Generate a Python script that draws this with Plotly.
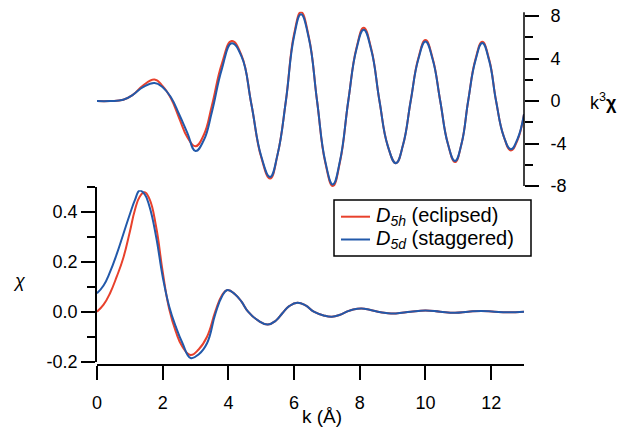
import plotly.graph_objects as go

# ---- data ----
k_top = [0.0, 0.4, 0.8, 1.1, 1.4, 1.75, 2.0, 2.25, 2.5, 2.75, 3.0, 3.25, 3.5, 3.8, 4.1,
         4.4, 4.7, 5.0, 5.27, 5.5, 5.75, 6.0, 6.21, 6.45, 6.7, 6.95, 7.18, 7.4, 7.65,
         7.9, 8.12, 8.35, 8.6, 8.85, 9.1, 9.32, 9.55, 9.78, 10.0, 10.22, 10.45, 10.68,
         10.9, 11.1, 11.3, 11.52, 11.73, 11.94, 12.15, 12.38, 12.6, 12.8, 13.0]
k3chi_eclipsed = [0.0, 0.0, 0.12, 0.6, 1.45, 2.02, 1.4, 0.25, -1.6, -3.4, -4.25, -3.2, -0.4, 3.5, 5.64,
                  4.3, -0.3, -5.3, -7.3, -5.0, 0.0, 6.3, 8.37, 6.0, 0.0, -5.8, -8.0, -5.7, 0.0,
                  5.0, 6.9, 4.9, 0.0, -4.2, -5.85, -4.1, 0.0, 4.0, 5.74, 4.0, 0.0, -4.0,
                  -5.75, -4.0, 0.0, 3.9, 5.57, 3.9, 0.0, -3.3, -4.65, -3.7, -1.25]
k3chi_staggered = [0.0, 0.0, 0.12, 0.6, 1.3, 1.7, 1.3, 0.35, -1.25, -3.0, -4.7, -3.7, -1.0, 3.0, 5.43,
                   4.2, -0.3, -5.2, -7.15, -5.0, 0.0, 6.1, 8.16, 5.9, 0.0, -5.7, -7.85, -5.6, 0.0,
                   4.9, 6.7, 4.8, 0.0, -4.2, -5.85, -4.1, 0.0, 3.9, 5.6, 3.9, 0.0, -4.0,
                   -5.65, -4.0, 0.0, 3.8, 5.45, 3.8, 0.0, -3.3, -4.55, -3.6, -1.25]

k_bot = [0.0, 0.2, 0.4, 0.6, 0.8, 1.0, 1.15, 1.3, 1.45, 1.6, 1.8, 2.0, 2.2, 2.4, 2.6, 2.85,
         3.1, 3.35, 3.6, 3.8, 3.97, 4.2, 4.4, 4.6, 4.9, 5.2, 5.45, 5.65, 5.85, 6.1, 6.35,
         6.6, 6.9, 7.15, 7.4, 7.6, 7.8, 8.05, 8.3, 8.55, 8.8, 9.1, 9.55, 10.0, 10.45,
         10.9, 11.3, 11.7, 12.1, 12.5, 13.0]
chi_eclipsed = [0.0, 0.028, 0.075, 0.14, 0.215, 0.32, 0.405, 0.46, 0.478, 0.45, 0.34, 0.16, 0.01,
                -0.08, -0.14, -0.173, -0.15, -0.10, 0.0, 0.065, 0.087, 0.07, 0.04, 0.0, -0.035,
                -0.051, -0.035, -0.005, 0.022, 0.036, 0.025, 0.0, -0.015, -0.02, -0.012, 0.0,
                0.009, 0.013, 0.008, 0.0, -0.005, -0.007, 0.0, 0.005, 0.0, -0.004, 0.0, 0.003,
                0.0, -0.002, 0.0]
chi_staggered = [0.074, 0.105, 0.16, 0.23, 0.31, 0.39, 0.445, 0.485, 0.47, 0.42, 0.30, 0.14, 0.02,
                 -0.06, -0.125, -0.185, -0.17, -0.126, -0.01, 0.06, 0.087, 0.07, 0.04, 0.0, -0.035,
                 -0.051, -0.035, -0.005, 0.022, 0.036, 0.025, 0.0, -0.015, -0.02, -0.012, 0.0,
                 0.009, 0.013, 0.008, 0.0, -0.005, -0.007, 0.0, 0.005, 0.0, -0.004, 0.0, 0.003,
                 0.0, -0.002, 0.0]

names = ["<i>D</i><sub><i>5h</i></sub> (eclipsed)", "<i>D</i><sub><i>5d</i></sub> (staggered)"]
RED = "#E8412C"
BLUE = "#2259AA"
colors = [RED, BLUE]

top_ticks = [-8, -4, 0, 4, 8]
top_ticktext = ["-8", "-4", "0", "4", "8"]
bot_ticks = [-0.2, 0.0, 0.2, 0.4]
bot_ticktext = ["-0.2", "0.0", "0.2", "0.4"]
x_ticks = [0, 2, 4, 6, 8, 10, 12]

FONT = "Liberation Sans, Arial, Helvetica, sans-serif"
SMOOTH = 1.3

PL, PR, PT, PB = 97, 524, 11, 365          # plot area in window pixels
W, H = 619, 430


def px(xp):
    return (xp - PL) / (PR - PL)


def py(yp):
    return (PB - yp) / (PB - PT)


fig = go.Figure()
# bottom panel (chi)
fig.add_trace(go.Scatter(x=k_bot, y=chi_eclipsed, mode="lines", name=names[0], showlegend=False,
                         line=dict(color=RED, width=2, shape="spline", smoothing=SMOOTH),
                         xaxis="x", yaxis="y"))
fig.add_trace(go.Scatter(x=k_bot, y=chi_staggered, mode="lines", name=names[1], showlegend=False,
                         line=dict(color=BLUE, width=2, shape="spline", smoothing=SMOOTH),
                         xaxis="x", yaxis="y"))
# top panel (k^3 chi)
fig.add_trace(go.Scatter(x=k_top, y=k3chi_eclipsed, mode="lines", showlegend=False,
                         line=dict(color=RED, width=2, shape="spline", smoothing=SMOOTH),
                         xaxis="x2", yaxis="y2"))
fig.add_trace(go.Scatter(x=k_top, y=k3chi_staggered, mode="lines", showlegend=False,
                         line=dict(color=BLUE, width=2, shape="spline", smoothing=SMOOTH),
                         xaxis="x2", yaxis="y2"))

TICKFONT = dict(family=FONT, size=18, color="black")

fig.update_layout(
    width=W, height=H,
    margin=dict(l=PL, r=W - PR, t=PT, b=H - PB, autoexpand=False),
    paper_bgcolor="white", plot_bgcolor="white",
    font=dict(family=FONT, size=18, color="black"),
    xaxis=dict(domain=[0, 1], range=[0, 13], anchor="free", position=0, automargin=False,
               tickvals=x_ticks, ticks="outside", ticklen=14, tickwidth=1.5, tickcolor="black",
               tickfont=TICKFONT, ticklabeloverflow="allow",
               showline=True, linecolor="black", linewidth=1.5, showgrid=False, zeroline=False,
               ticklabelstandoff=8),
    yaxis=dict(domain=[py(361.7), py(186.7)], range=[-0.2, 0.5], anchor="x", automargin=False,
               tickvals=bot_ticks, ticktext=bot_ticktext, ticks="outside", ticklen=14,
               tickwidth=1.5, tickcolor="black", tickfont=TICKFONT, ticklabeloverflow="allow",
               minor=dict(tickvals=[-0.1, 0.1, 0.3, 0.5], ticks="outside", ticklen=8,
                          tickwidth=1.5, tickcolor="black"),
               showline=True, linecolor="black", linewidth=1.5, showgrid=False, zeroline=False,
               ticklabelstandoff=0),
    xaxis2=dict(domain=[0, 1], range=[0, 13], anchor="y2", visible=False, automargin=False),
    yaxis2=dict(domain=[py(190.25), py(11.75)], range=[-8.4, 8.4], anchor="x2", side="right",
                automargin=False, ticklabeloverflow="allow",
                tickvals=top_ticks, ticktext=top_ticktext, ticks="outside", ticklen=14,
                tickwidth=1.5, tickcolor="black", tickfont=TICKFONT,
                minor=dict(tickvals=[-6, -2, 2, 6], ticks="outside", ticklen=8,
                           tickwidth=1.5, tickcolor="black"),
                showline=False, showgrid=False, zeroline=False, ticklabelstandoff=8),
    showlegend=False,
)

# right axis spine of the top panel (from -8 to the top)
fig.add_shape(type="line", xref="paper", yref="y2", x0=1, x1=1, y0=-8, y1=8.35,
              line=dict(color="black", width=1.5))

# legend box (drawn by hand to match the reference layout)
fig.add_shape(type="rect", xref="paper", yref="paper",
              x0=px(334), x1=px(531), y0=py(256), y1=py(200),
              line=dict(color="black", width=1.5), fillcolor="white", layer="above")
for i, (name, col) in enumerate(zip(names, colors)):
    yc = [216.7, 239.5][i]
    fig.add_shape(type="line", xref="paper", yref="paper",
                  x0=px(341), x1=px(370), y0=py(yc), y1=py(yc),
                  line=dict(color=col, width=2), layer="above")
    fig.add_annotation(text=name, xref="paper", yref="paper", x=px(374), y=py(yc),
                       xanchor="left", yanchor="middle", showarrow=False,
                       font=dict(family=FONT, size=20, color="black"))

fig.add_annotation(text="k<sup>3</sup><b>χ</b>", xref="paper", yref="y2",
                   x=px(588), y=0, xanchor="left", yanchor="middle",
                   showarrow=False, font=dict(family=FONT, size=18))
fig.add_annotation(text="<i>χ</i>", xref="paper", yref="paper",
                   x=px(19), y=py(281), xanchor="center", yanchor="middle",
                   showarrow=False, font=dict(family=FONT, size=18))
fig.add_annotation(text="k (Å)", xref="paper", yref="paper",
                   x=px(322), y=py(416), xanchor="center", yanchor="middle",
                   showarrow=False, font=dict(family=FONT, size=19))

fig.write_html("out.html",
               config={"displayModeBar": False},
               post_script="document.body.style.margin='0px';")
